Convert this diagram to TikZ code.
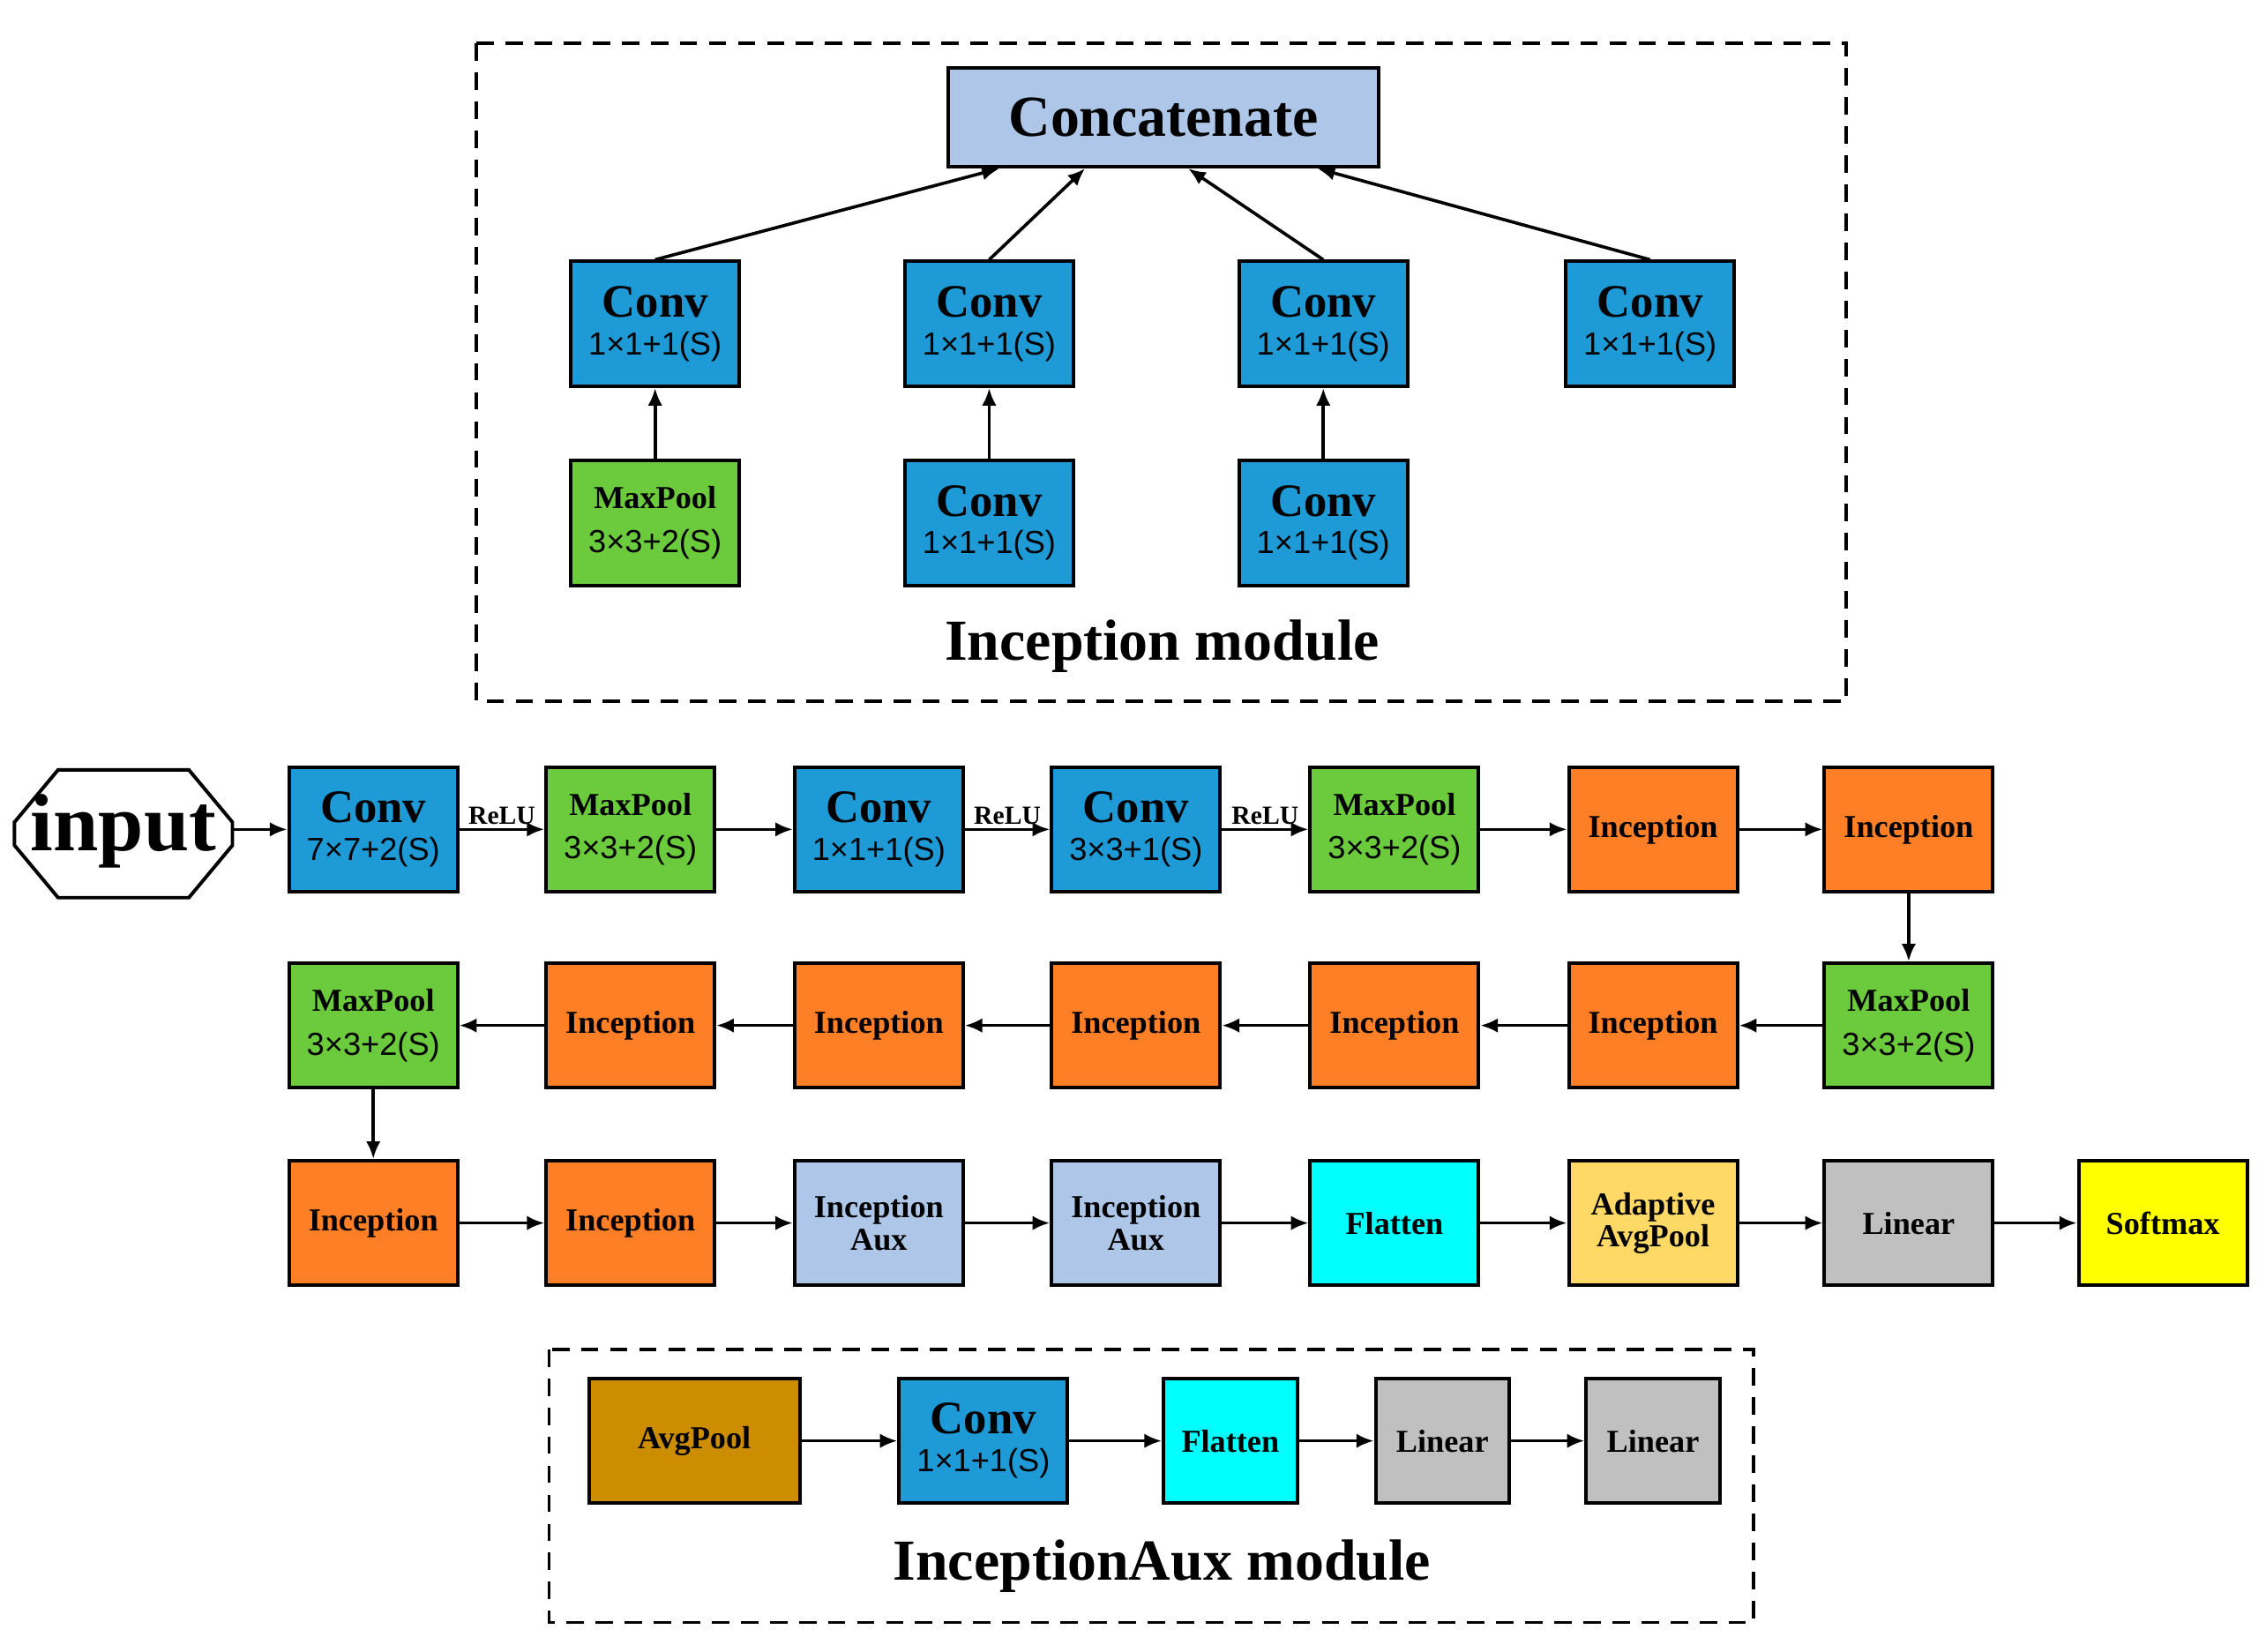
\documentclass[tikz,border=0pt]{standalone}
\usepackage{fontspec}
\setmainfont{Liberation Serif}
\newfontfamily\sansf{Liberation Sans}
\usetikzlibrary{shapes.geometric,arrows.meta}
\definecolor{cblue}{HTML}{1E9BD7}
\definecolor{cgreen}{HTML}{6CCB3C}
\definecolor{corange}{HTML}{FF7F27}
\definecolor{clb}{HTML}{AEC7E8}
\definecolor{ccyan}{HTML}{00FFFF}
\definecolor{cada}{HTML}{FFD966}
\definecolor{cgray}{HTML}{C0C0C0}
\definecolor{cyel}{HTML}{FFFF00}
\definecolor{cavg}{HTML}{CC8E00}
\begin{document}
\begin{tikzpicture}[x=0.5pt,y=-0.5pt,
 box/.style={draw=black,line width=1.2pt,minimum width=58pt,minimum height=43pt,inner sep=0pt,align=center,font=\bfseries\fontsize{11}{12}\selectfont},
 conv/.style={box,fill=cblue},
 mp/.style={box,fill=cgreen},
 inc/.style={box,fill=corange},
 aux/.style={box,fill=clb,font=\bfseries\fontsize{11}{11}\selectfont},
 arr/.style={-{Latex[length=6pt,width=5pt]},line width=1.1pt},
 relu/.style={font=\bfseries\fontsize{9}{9}\selectfont,above,inner sep=1pt},
 dashbox/.style={draw,line width=1.2pt,dash pattern=on 6pt off 4pt}]
\newcommand{\cv}[1]{{\fontsize{16}{18}\selectfont Conv}\\[1pt]{\sansf\mdseries\fontsize{11}{12}\selectfont #1}}
\newcommand{\mpt}{MaxPool\\[3pt]{\sansf\mdseries\fontsize{11}{12}\selectfont 3\texttimes3+2(S)}}
\useasboundingbox (0,0) rectangle (1560,1137);
% top module
\draw[dashbox] (328,30) rectangle (1271,483);
\node[box,fill=clb,minimum width=148pt,minimum height=34pt,font=\bfseries\fontsize{20}{22}\selectfont] (cat) at (801,81) {Concatenate};
\node[conv] (t1) at (451,223) {\cv{1\texttimes1+1(S)}};
\node[conv] (t2) at (681,223) {\cv{1\texttimes1+1(S)}};
\node[conv] (t3) at (911,223) {\cv{1\texttimes1+1(S)}};
\node[conv] (t4) at (1136,223) {\cv{1\texttimes1+1(S)}};
\node[mp] (b1) at (451,360) {\mpt};
\node[conv] (b2) at (681,360) {\cv{1\texttimes1+1(S)}};
\node[conv] (b3) at (911,360) {\cv{1\texttimes1+1(S)}};
\node[font=\bfseries\fontsize{20}{22}\selectfont] (lab1) at (800,445) {Inception module};
\coordinate (c1) at (688,116);\coordinate (c2) at (747,116);
\coordinate (c3) at (818,116);\coordinate (c4) at (907,116);
\draw[arr] (t1.north) -- (c1);
\draw[arr] (t2.north) -- (c2);
\draw[arr] (t3.north) -- (c3);
\draw[arr] (t4.north) -- (c4);
\draw[arr] (b1) -- (t1);
\draw[arr] (b2) -- (t2);
\draw[arr] (b3) -- (t3);
% row 1
\draw[line width=1.2pt,fill=white] (10,566)--(40,530)--(130,530)--(160,566)--(160,582)--(130,618)--(40,618)--(10,582)--cycle;
\node[font=\bfseries\fontsize{28}{30}\selectfont] (intext) at (85,572) {input};
\node[conv] (r11) at (257,571) {\cv{7\texttimes7+2(S)}};
\node[mp] (r12) at (434,571) {\mpt};
\node[conv] (r13) at (605,571) {\cv{1\texttimes1+1(S)}};
\node[conv] (r14) at (782,571) {\cv{3\texttimes3+1(S)}};
\node[mp] (r15) at (960,571) {\mpt};
\node[inc] (r16) at (1138,571) {Inception};
\node[inc] (r17) at (1314,571) {Inception};
\coordinate (inE) at (160,571);
\draw[arr] (inE) -- (r11);
\draw[arr] (r11) -- node[relu]{ReLU} (r12);
\draw[arr] (r12) -- (r13);
\draw[arr] (r13) -- node[relu]{ReLU} (r14);
\draw[arr] (r14) -- node[relu]{ReLU} (r15);
\draw[arr] (r15) -- (r16);
\draw[arr] (r16) -- (r17);
% row 2
\node[mp] (r27) at (1314,706) {\mpt};
\node[inc] (r26) at (1138,706) {Inception};
\node[inc] (r25) at (960,706) {Inception};
\node[inc] (r24) at (782,706) {Inception};
\node[inc] (r23) at (605,706) {Inception};
\node[inc] (r22) at (434,706) {Inception};
\node[mp] (r21) at (257,706) {\mpt};
\draw[arr] (r17) -- (r27);
\draw[arr] (r27) -- (r26);
\draw[arr] (r26) -- (r25);
\draw[arr] (r25) -- (r24);
\draw[arr] (r24) -- (r23);
\draw[arr] (r23) -- (r22);
\draw[arr] (r22) -- (r21);
% row 3
\node[inc] (r31) at (257,842) {Inception};
\node[inc] (r32) at (434,842) {Inception};
\node[aux] (r33) at (605,842) {Inception\\Aux};
\node[aux] (r34) at (782,842) {Inception\\Aux};
\node[box,fill=ccyan] (r35) at (960,842) {Flatten};
\node[box,fill=cada,font=\bfseries\fontsize{11}{11}\selectfont] (r36) at (1138,842) {Adaptive\\AvgPool};
\node[box,fill=cgray] (r37) at (1314,842) {Linear};
\node[box,fill=cyel] (r38) at (1489,842) {Softmax};
\draw[arr] (r21) -- (r31);
\draw[arr] (r31) -- (r32);
\draw[arr] (r32) -- (r33);
\draw[arr] (r33) -- (r34);
\draw[arr] (r34) -- (r35);
\draw[arr] (r35) -- (r36);
\draw[arr] (r36) -- (r37);
\draw[arr] (r37) -- (r38);
% aux module
\draw[dashbox] (378,929) rectangle (1207,1117);
\node[box,fill=cavg,minimum width=72.5pt] (a1) at (478,992) {AvgPool};
\node[conv] (a2) at (677,992) {\cv{1\texttimes1+1(S)}};
\node[box,fill=ccyan,minimum width=46pt] (a3) at (847,992) {Flatten};
\node[box,fill=cgray,minimum width=46pt] (a4) at (993,992) {Linear};
\node[box,fill=cgray,minimum width=46pt] (a5) at (1138,992) {Linear};
\node[font=\bfseries\fontsize{20}{22}\selectfont] (lab2) at (800,1078) {InceptionAux module};
\draw[arr] (a1) -- (a2);
\draw[arr] (a2) -- (a3);
\draw[arr] (a3) -- (a4);
\draw[arr] (a4) -- (a5);
\end{tikzpicture}
\end{document}
